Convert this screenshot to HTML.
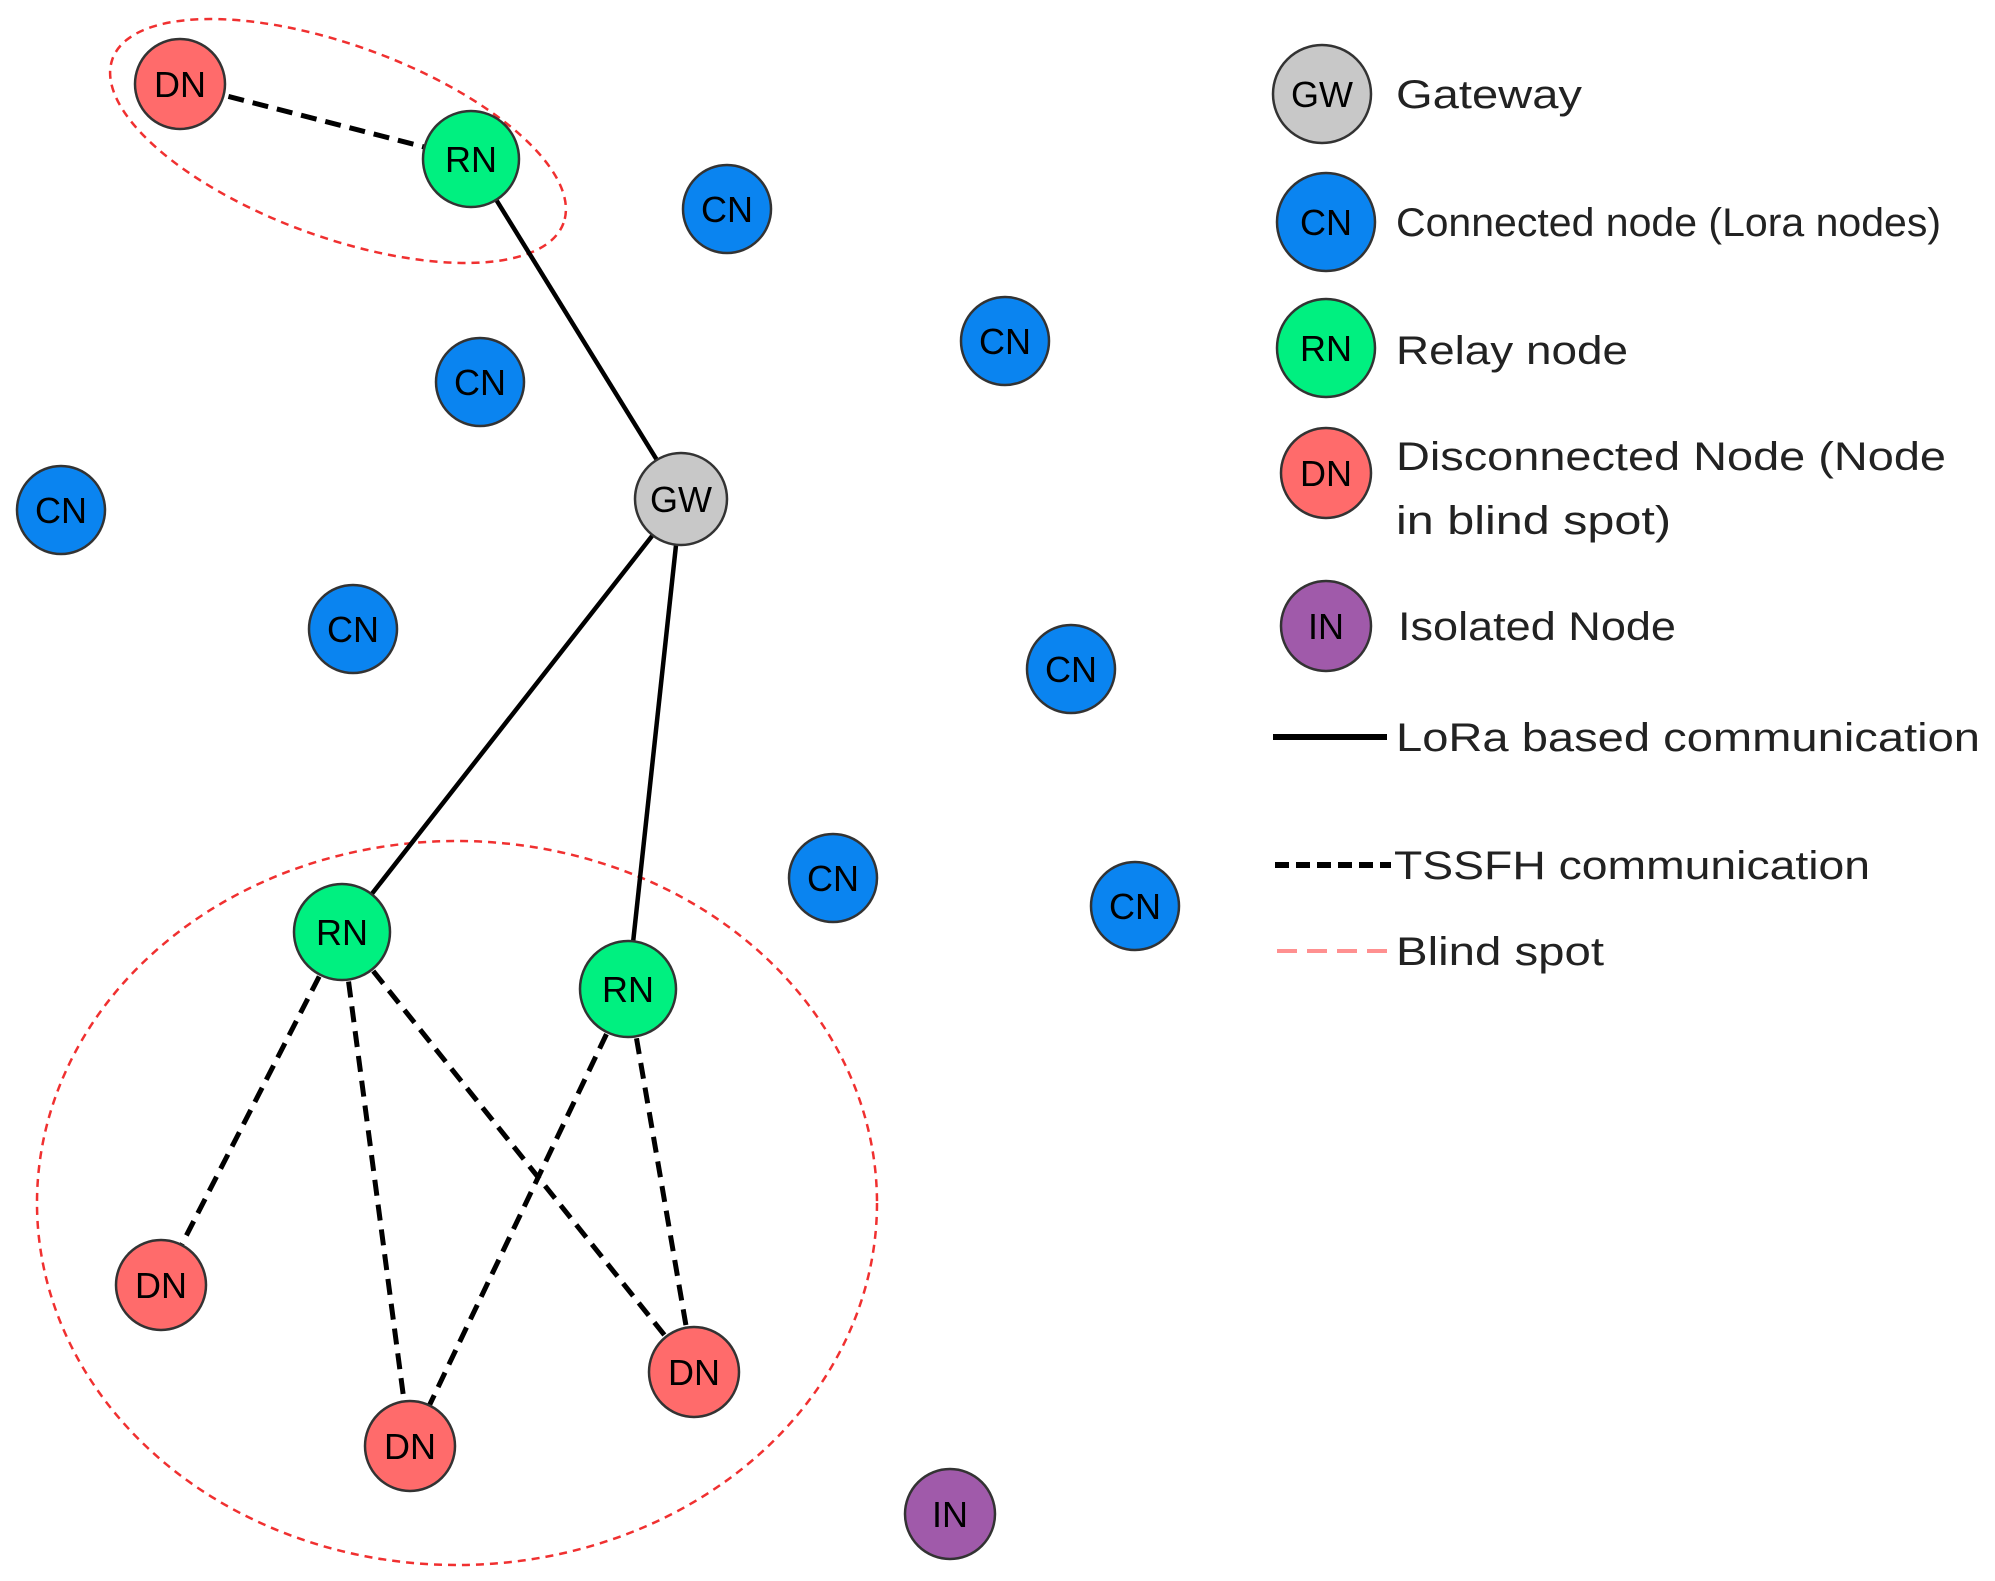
<!DOCTYPE html>
<html><head><meta charset="utf-8"><style>body{margin:0;background:#fff}svg{display:block}</style></head><body>
<svg width="1995" height="1581" viewBox="0 0 1995 1581" xmlns="http://www.w3.org/2000/svg" font-family="Liberation Sans, sans-serif">
<g transform="translate(-3,-2)">
<g fill="none" stroke="#f03030" stroke-width="2.5" stroke-dasharray="8,6">
<ellipse cx="341" cy="143" rx="240" ry="96" transform="rotate(20 341 143)"/>
<ellipse cx="460" cy="1205" rx="420" ry="362"/>
</g>
<g stroke="#000" stroke-width="4.5">
<line x1="474" y1="161" x2="684" y2="501"/>
<line x1="684" y1="501" x2="345" y2="934"/>
<line x1="684" y1="501" x2="631" y2="991"/>
</g>
<g stroke="#000" stroke-width="5" stroke-dasharray="16,9">
<line x1="183" y1="86" x2="474" y2="161"/>
<line x1="345" y1="934" x2="164" y2="1287"/>
<line x1="345" y1="934" x2="413" y2="1448"/>
<line x1="345" y1="934" x2="697" y2="1374"/>
<line x1="631" y1="991" x2="413" y2="1448"/>
<line x1="631" y1="991" x2="697" y2="1374"/>
</g>
<g stroke="#333" stroke-width="2.5">
<g fill="#ff6b6b"><circle cx="183" cy="86" r="45"/><circle cx="164" cy="1287" r="45"/><circle cx="697" cy="1374" r="45"/><circle cx="413" cy="1448" r="45"/><circle cx="1329" cy="475" r="45"/></g>
<g fill="#00f080"><circle cx="474" cy="161" r="48"/><circle cx="345" cy="934" r="48"/><circle cx="631" cy="991" r="48"/><circle cx="1329" cy="350" r="49"/></g>
<g fill="#0a84f0"><circle cx="730" cy="211" r="44"/><circle cx="1008" cy="343" r="44"/><circle cx="483" cy="384" r="44"/><circle cx="64" cy="512" r="44"/><circle cx="356" cy="631" r="44"/><circle cx="1074" cy="671" r="44"/><circle cx="836" cy="880" r="44"/><circle cx="1138" cy="908" r="44"/><circle cx="1329" cy="224" r="49"/></g>
<g fill="#c8c8c8"><circle cx="684" cy="501" r="46"/><circle cx="1325" cy="96" r="49"/></g>
<g fill="#a05aaa"><circle cx="953" cy="1516" r="45"/><circle cx="1329" cy="628" r="45"/></g>
</g>
<g font-size="36" text-anchor="middle" fill="#000">
<text x="183" y="99">DN</text><text x="164" y="1300">DN</text><text x="697" y="1387">DN</text><text x="413" y="1461">DN</text><text x="1329" y="488">DN</text>
<text x="474" y="174">RN</text><text x="345" y="947">RN</text><text x="631" y="1004">RN</text><text x="1329" y="363">RN</text>
<text x="730" y="224">CN</text><text x="1008" y="356">CN</text><text x="483" y="397">CN</text><text x="64" y="525">CN</text><text x="356" y="644">CN</text><text x="1074" y="684">CN</text><text x="836" y="893">CN</text><text x="1138" y="921">CN</text><text x="1329" y="237">CN</text>
<text x="684" y="514">GW</text><text x="1325" y="109">GW</text>
<text x="953" y="1529">IN</text><text x="1329" y="641">IN</text>
</g>
<g font-size="40" fill="#222">
<text x="1399" y="110" textLength="186" lengthAdjust="spacingAndGlyphs">Gateway</text>
<text x="1399" y="238" textLength="545" lengthAdjust="spacingAndGlyphs">Connected node (Lora nodes)</text>
<text x="1399" y="366" textLength="232" lengthAdjust="spacingAndGlyphs">Relay node</text>
<text x="1399" y="472" textLength="550" lengthAdjust="spacingAndGlyphs">Disconnected Node (Node</text>
<text x="1399" y="536" textLength="275" lengthAdjust="spacingAndGlyphs">in blind spot)</text>
<text x="1401" y="642" textLength="278" lengthAdjust="spacingAndGlyphs">Isolated Node</text>
<text x="1399" y="753" textLength="584" lengthAdjust="spacingAndGlyphs">LoRa based communication</text>
<text x="1397" y="881" textLength="476" lengthAdjust="spacingAndGlyphs">TSSFH communication</text>
<text x="1399" y="967" textLength="208" lengthAdjust="spacingAndGlyphs">Blind spot</text>
</g>
<line x1="1276" y1="739" x2="1390" y2="739" stroke="#000" stroke-width="6"/>
<line x1="1278" y1="867" x2="1394" y2="867" stroke="#000" stroke-width="6" stroke-dasharray="14,7"/>
<line x1="1280" y1="953" x2="1392" y2="953" stroke="#ff9090" stroke-width="4" stroke-dasharray="20,10"/>
</g>
</svg>
</body></html>
